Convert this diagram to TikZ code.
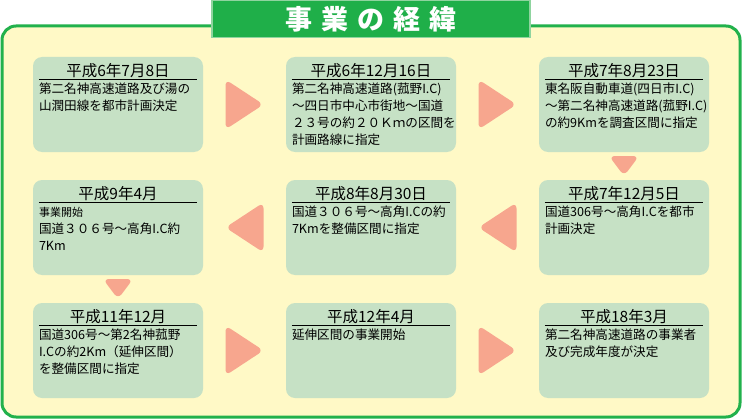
\documentclass[tikz,border=0pt]{standalone}
\usepackage{fontspec}
\usetikzlibrary{positioning, calc}
\newfontfamily\jp{Noto Sans CJK JP}
\definecolor{FrameGreen}{HTML}{22B14C}
\definecolor{BannerGreen}{HTML}{1FAF49}
\definecolor{BannerEdge}{HTML}{8FD49F}
\definecolor{BgYellow}{HTML}{FFF9C6}
\definecolor{BoxGreen}{HTML}{C6E1C5}
\definecolor{ArrowPink}{HTML}{F7A68E}
\tikzset{
	evbox/.style={fill=BoxGreen, rounded corners=9pt, minimum width=170pt, minimum height=95pt, inner sep=0pt},
	evdate/.style={anchor=base, inner sep=0pt, font=\jp\fontsize{15.5}{15}\selectfont},
	evtext/.style={anchor=north west, inner sep=0pt, text width=162pt, align=left, font=\jp\fontsize{12.6}{17}\selectfont},
	evrule/.style={line width=0.8pt, black},
	tri/.style={fill=ArrowPink, rounded corners=6pt},
}

\begin{document}
\begin{tikzpicture}[x=1pt, y=-1pt]
	\useasboundingbox (0,0) rectangle (742,420);
	\draw[FrameGreen, line width=3pt, fill=BgYellow, rounded corners=14pt] (2,26) rectangle (740,417);
	
	\node[fill=BannerGreen, draw=BannerEdge, line width=1.5pt, minimum width=318pt, minimum height=37pt, inner sep=0pt,
		text=white, font=\jp\bfseries\fontsize{27}{27}\selectfont] (title) at (371,19)
		{事\hspace{9pt}業\hspace{9pt}の\hspace{9pt}経\hspace{9pt}緯};
	
	% row 1
	\node[evbox] (e1) at (118,104.5) {};
	\node[evdate] (d1) at ($(e1.north)+(0,20)$) {平成6年7月8日};
	\draw[evrule] ($(e1.north west)+(6,23)$) -- ($(e1.north east)+(-6,23)$);
	\node[evtext] (t1) at ($(e1.north west)+(6,26)$) {第二名神高速道路及び湯の\\山潤田線を都市計画決定};
	%
	\node[evbox] (e2) at (371,104.5) {};
	\node[evdate] (d2) at ($(e2.north)+(0,20)$) {平成6年12月16日};
	\draw[evrule] ($(e2.north west)+(6,23)$) -- ($(e2.north east)+(-6,23)$);
	\node[evtext] (t2) at ($(e2.north west)+(6,26)$) {第二名神高速道路(菰野I.C)\\～四日市中心市街地～国道\\２３号の約２０Ｋｍの区間を\\計画路線に指定};
	%
	\node[evbox] (e3) at (624,104.5) {};
	\node[evdate] (d3) at ($(e3.north)+(0,20)$) {平成7年8月23日};
	\draw[evrule] ($(e3.north west)+(6,23)$) -- ($(e3.north east)+(-6,23)$);
	\node[evtext] (t3) at ($(e3.north west)+(6,26)$) {東名阪自動車道(四日市I.C)\\～第二名神高速道路(菰野I.C)\\の約9Kmを調査区間に指定};
	
	% row 2
	\node[evbox] (e4) at (624,227.5) {};
	\node[evdate] (d4) at ($(e4.north)+(0,20)$) {平成7年12月5日};
	\draw[evrule] ($(e4.north west)+(6,23)$) -- ($(e4.north east)+(-6,23)$);
	\node[evtext] (t4) at ($(e4.north west)+(6,26)$) {国道306号～高角I.Cを都市\\計画決定};
	%
	\node[evbox] (e5) at (371,227.5) {};
	\node[evdate] (d5) at ($(e5.north)+(0,20)$) {平成8年8月30日};
	\draw[evrule] ($(e5.north west)+(6,23)$) -- ($(e5.north east)+(-6,23)$);
	\node[evtext] (t5) at ($(e5.north west)+(6,26)$) {国道３０６号～高角I.Cの約\\7Kmを整備区間に指定};
	%
	\node[evbox] (e6) at (118,227.5) {};
	\node[evdate] (d6) at ($(e6.north)+(0,20)$) {平成9年4月};
	\draw[evrule] ($(e6.north west)+(6,23)$) -- ($(e6.north east)+(-6,23)$);
	\node[evtext] (t6) at ($(e6.north west)+(6,27)$) {{\fontsize{11}{17}\selectfont 事業開始}\\国道３０６号～高角I.C約\\7Km};
	
	% row 3
	\node[evbox] (e7) at (118,350.5) {};
	\node[evdate] (d7) at ($(e7.north)+(0,20)$) {平成11年12月};
	\draw[evrule] ($(e7.north west)+(6,23)$) -- ($(e7.north east)+(-6,23)$);
	\node[evtext] (t7) at ($(e7.north west)+(6,26)$) {国道306号～第2名神菰野\\I.Cの約2Km（延伸区間）\\を整備区間に指定};
	%
	\node[evbox] (e8) at (371,350.5) {};
	\node[evdate] (d8) at ($(e8.north)+(0,20)$) {平成12年4月};
	\draw[evrule] ($(e8.north west)+(6,23)$) -- ($(e8.north east)+(-6,23)$);
	\node[evtext] (t8) at ($(e8.north west)+(6,26)$) {延伸区間の事業開始};
	%
	\node[evbox] (e9) at (624,350.5) {};
	\node[evdate] (d9) at ($(e9.north)+(0,20)$) {平成18年3月};
	\draw[evrule] ($(e9.north west)+(6,23)$) -- ($(e9.north east)+(-6,23)$);
	\node[evtext] (t9) at ($(e9.north west)+(6,26)$) {第二名神高速道路の事業者\\及び完成年度が決定};
	
	% arrows
	\fill[tri] ($(e1.east)!.5!(e2.west)$) ++(-19,-25) -- ++(38,25) -- ++(-38,25) -- cycle;
	\fill[tri] ($(e2.east)!.5!(e3.west)$) ++(-19,-25) -- ++(38,25) -- ++(-38,25) -- cycle;
	\fill[tri] ($(e3.south)!.5!(e4.north)$) ++(-15,-10) -- ++(30,0) -- ++(-15,20) -- cycle;
	\fill[tri] ($(e4.west)!.5!(e5.east)$) ++(19,-25) -- ++(-38,25) -- ++(38,25) -- cycle;
	\fill[tri] ($(e5.west)!.5!(e6.east)$) ++(19,-25) -- ++(-38,25) -- ++(38,25) -- cycle;
	\fill[tri] ($(e6.south)!.5!(e7.north)$) ++(-15,-10) -- ++(30,0) -- ++(-15,20) -- cycle;
	\fill[tri] ($(e7.east)!.5!(e8.west)$) ++(-19,-25) -- ++(38,25) -- ++(-38,25) -- cycle;
	\fill[tri] ($(e8.east)!.5!(e9.west)$) ++(-19,-25) -- ++(38,25) -- ++(-38,25) -- cycle;
\end{tikzpicture}
\end{document}
